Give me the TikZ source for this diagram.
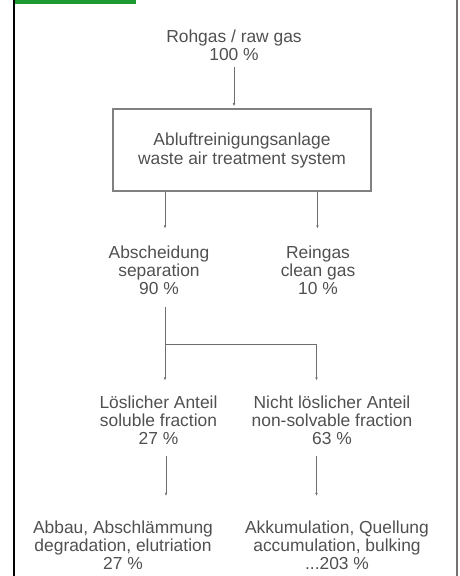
\documentclass[tikz,border=0pt]{standalone}
\usepackage{fontspec}
\setmainfont{Liberation Sans}
\usepackage{xcolor}
\usepackage{tikz}
\usetikzlibrary{positioning,arrows.meta,calc}

\definecolor{txtgray}{HTML}{505050}
\definecolor{linegray}{HTML}{6E6E6E}
\definecolor{barGreen}{HTML}{1E9A32}

\begin{document}
\begin{tikzpicture}[x=1pt, y=-1pt,
    lbl/.style={align=center, inner sep=0pt, text=txtgray,
        font=\fontsize{17.4}{18}\selectfont},
    unitbox/.style={draw=black!50, line width=1.6pt, minimum width=258pt,
        minimum height=82pt, inner sep=0pt, align=center, text=txtgray,
        font=\fontsize{17.4}{19}\selectfont},
    arr/.style={draw=linegray, line width=0.8pt, -{Latex[length=3pt,width=2.6pt]}},
    conn/.style={draw=linegray, line width=0.8pt}]
    \useasboundingbox (0,0) rectangle (459,576);

    % Frame and green tab
    \fill[barGreen] (14,0) rectangle (136,4);
    \draw[black, line width=1.6pt] (14,0) -- (14,576);
    \draw[black!55, line width=2pt] (457,0) -- (457,576);

    % Columns for the connectors
    \coordinate (colL) at (165,0);
    \coordinate (colR) at (317.5,0);

    % Raw gas and treatment system
    \node[lbl] (raw) at (234,45.5) {Rohgas / raw gas\\100 \%};
    \node[unitbox] (unit) at (242,150) {Abluftreinigungsanlage\\waste air treatment system};

    % Separation and clean gas
    \node[lbl] (sep) at (159,270) {Abscheidung\\separation\\90 \%};
    \node[lbl] (clean) at (318,270) {Reingas\\clean gas\\10 \%};

    % Soluble / non-soluble fraction
    \node[lbl] (sol) at (158.5,420) {Löslicher Anteil\\soluble fraction\\27 \%};
    \node[lbl] (nsol) at (332,420) {Nicht löslicher Anteil\\non-solvable fraction\\63 \%};

    % Fate in the sludge
    \node[lbl] (deg) at (123,545.5) {Abbau, Abschlämmung\\degradation, elutriation\\27 \%};
    \node[lbl] (acc) at (337,545.5) {Akkumulation, Quellung\\accumulation, bulking\\...203 \%};

    % Connectors
    \draw[arr, shorten <=6pt, shorten >=2pt] (raw.south) -- (raw.south |- unit.north);
    \draw[arr, shorten >=17pt] (unit.south -| colL) -- (sep.north -| colL);
    \draw[arr, shorten >=17pt] (unit.south -| colR) -- (clean.north -| colR);
    \coordinate (split) at ($(sep.south -| colL)+(0,50)$);
    \draw[conn, shorten <=12pt] (sep.south -| colL) -- (split) -- (split -| 316.5,0);
    \draw[arr, shorten >=15pt] (split) -- (sol.north -| colL);
    \draw[arr, shorten >=15pt] (split -| 316.5,0) -- (nsol.north -| 316.5,0);
    \draw[arr, shorten <=11pt, shorten >=25pt] (sol.south -| 166,0) -- (deg.north -| 166,0);
    \draw[arr, shorten <=11pt, shorten >=25pt] (nsol.south -| 316.5,0) -- (acc.north -| 316.5,0);
\end{tikzpicture}
\end{document}
